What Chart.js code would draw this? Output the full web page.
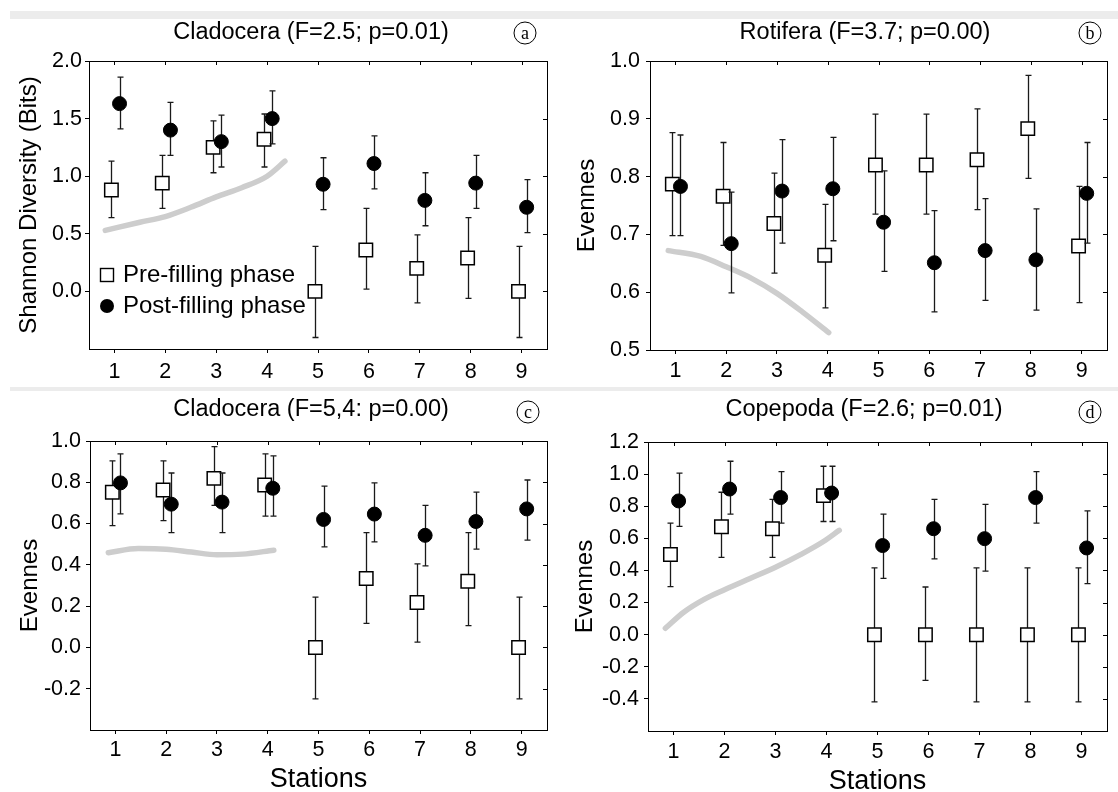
<!DOCTYPE html>
<html>
<head>
<meta charset="utf-8">
<title>Diversity and evenness by station</title>
<script src="https://cdn.jsdelivr.net/npm/chart.js@4.4.1/dist/chart.umd.min.js"></script>
<style>
  html, body { margin: 0; padding: 0; background: #fff; width: 1118px; height: 792px; overflow: hidden; position: relative; }
  .band { position: absolute; left: 10px; right: 0; background: #ececec; }
  canvas { position: absolute; }
</style>
</head>
<body>
<div class="band" style="top:11px;height:8px"></div>
<div class="band" style="top:387px;height:4px"></div>
<canvas id="chartA" width="558" height="370" style="left:0;top:20px"></canvas>
<canvas id="chartB" width="560" height="370" style="left:558px;top:20px"></canvas>
<canvas id="chartC" width="558" height="408" style="left:0;top:392px"></canvas>
<canvas id="chartD" width="560" height="408" style="left:558px;top:392px"></canvas>
<script>
const stations = [1, 2, 3, 4, 5, 6, 7, 8, 9];

// (a) Cladocera - Shannon diversity
const preA = [0.88, 0.94, 1.25, 1.32, 0.0, 0.36, 0.2, 0.29, 0.0];
const preALo = [0.64, 0.72, 1.03, 1.08, -0.4, 0.02, -0.1, -0.06, -0.4];
const preAHi = [1.13, 1.18, 1.48, 1.54, 0.39, 0.72, 0.49, 0.64, 0.39];
const postA = [1.63, 1.4, 1.3, 1.5, 0.93, 1.11, 0.79, 0.94, 0.73];
const postALo = [1.41, 1.18, 1.08, 1.28, 0.71, 0.89, 0.57, 0.72, 0.51];
const postAHi = [1.86, 1.64, 1.53, 1.74, 1.16, 1.35, 1.03, 1.18, 0.97];
const trendAX = [0.82, 1.5, 2, 2.5, 3, 3.5, 4, 4.35];
const trendAY = [0.53, 0.6, 0.65, 0.73, 0.82, 0.9, 1.0, 1.13];
const yTicksA = [0, 0.5, 1.0, 1.5, 2.0];

// (b) Rotifera - evenness
const preB = [0.787, 0.766, 0.719, 0.664, 0.82, 0.82, 0.829, 0.883, 0.68];
const preBLo = [0.698, 0.681, 0.633, 0.573, 0.735, 0.735, 0.743, 0.797, 0.582];
const preBHi = [0.876, 0.859, 0.806, 0.752, 0.908, 0.908, 0.917, 0.975, 0.783];
const postB = [0.783, 0.684, 0.775, 0.779, 0.721, 0.651, 0.672, 0.656, 0.771];
const postBLo = [0.698, 0.599, 0.685, 0.689, 0.636, 0.566, 0.586, 0.569, 0.685];
const postBHi = [0.872, 0.773, 0.864, 0.868, 0.81, 0.741, 0.762, 0.744, 0.859];
const trendBX = [0.86, 1.5, 2, 2.5, 3, 3.5, 4.02];
const trendBY = [0.672, 0.662, 0.644, 0.624, 0.598, 0.566, 0.53];
const yTicksB = [0.5, 0.6, 0.7, 0.8, 0.9, 1.0];

// (c) Cladocera - evenness
const preC = [0.752, 0.763, 0.819, 0.787, 0.0, 0.334, 0.218, 0.321, 0.0];
const preCLo = [0.59, 0.614, 0.688, 0.636, -0.249, 0.117, 0.026, 0.106, -0.249];
const preCHi = [0.904, 0.904, 0.973, 0.938, 0.244, 0.556, 0.405, 0.556, 0.244];
const postC = [0.797, 0.694, 0.704, 0.771, 0.62, 0.646, 0.543, 0.61, 0.671];
const postCLo = [0.647, 0.556, 0.556, 0.636, 0.487, 0.511, 0.395, 0.476, 0.52];
const postCHi = [0.938, 0.845, 0.845, 0.928, 0.781, 0.797, 0.688, 0.752, 0.811];
const trendCX = [0.86, 1.45, 2, 2.5, 3, 3.5, 4.12];
const trendCY = [0.459, 0.479, 0.476, 0.462, 0.449, 0.452, 0.471];
const yTicksC = [-0.2, 0, 0.2, 0.4, 0.6, 0.8, 1.0];

// (d) Copepoda - evenness
const preD = [0.499, 0.672, 0.66, 0.866, 0.0, 0.0, 0.0, 0.0, 0.0];
const preDLo = [0.299, 0.482, 0.482, 0.705, -0.419, -0.285, -0.419, -0.419, -0.419];
const preDHi = [0.695, 0.887, 0.843, 1.049, 0.416, 0.297, 0.416, 0.416, 0.416];
const postD = [0.833, 0.907, 0.854, 0.882, 0.555, 0.66, 0.598, 0.854, 0.54];
const postDLo = [0.674, 0.751, 0.695, 0.705, 0.351, 0.472, 0.396, 0.695, 0.318];
const postDHi = [1.006, 1.08, 1.016, 1.049, 0.751, 0.843, 0.812, 1.016, 0.771];
const trendDX = [0.84, 1.2, 1.6, 2.0, 2.5, 3.0, 3.5, 3.94, 4.25];
const trendDY = [0.04, 0.14, 0.22, 0.28, 0.35, 0.42, 0.5, 0.58, 0.65];
const yTicksD = [-0.4, -0.2, 0, 0.2, 0.4, 0.6, 0.8, 1.0, 1.2];

const FONT = "'Liberation Sans', Arial, Helvetica, sans-serif";
const PRE_SHIFT = -0.06;
const POST_SHIFT = 0.1;

// error bars drawn just before their own dataset, so markers sit on top
const errorBars = {
  id: "errorBars",
  beforeDatasetDraw(chart, args) {
    const ds = chart.data.datasets[args.index];
    if (!ds.errLo) return;
    const ctx = chart.ctx;
    const xs = chart.scales.x;
    const ys = chart.scales.y;
    ctx.save();
    ctx.strokeStyle = "#1a1a1a";
    ctx.lineWidth = 1.3;
    ds.data.forEach((p, i) => {
      const px = Math.round(xs.getPixelForValue(p.x)) + 0.5;
      const top = ys.getPixelForValue(ds.errHi[i]);
      const bot = ys.getPixelForValue(ds.errLo[i]);
      ctx.beginPath();
      ctx.moveTo(px, top);
      ctx.lineTo(px, bot);
      ctx.moveTo(px - 3, top);
      ctx.lineTo(px + 3, top);
      ctx.moveTo(px - 3, bot);
      ctx.lineTo(px + 3, bot);
      ctx.stroke();
    });
    ctx.restore();
  },
};

// full box round the plot, with inward ticks on top and right
const frame = {
  id: "frame",
  afterDraw(chart) {
    const { ctx, chartArea: a } = chart;
    const xs = chart.scales.x;
    const ys = chart.scales.y;
    ctx.save();
    ctx.strokeStyle = "#000";
    ctx.lineWidth = 1;
    ctx.strokeRect(Math.round(a.left) + 0.5, Math.round(a.top) + 0.5, Math.round(a.right - a.left), Math.round(a.bottom - a.top));
    ctx.beginPath();
    xs.ticks.forEach((t) => {
      const px = Math.round(xs.getPixelForValue(t.value)) + 0.5;
      ctx.moveTo(px, a.top);
      ctx.lineTo(px, a.top + 4);
    });
    ys.ticks.forEach((t) => {
      const py = Math.round(ys.getPixelForValue(t.value)) + 0.5;
      ctx.moveTo(a.right, py);
      ctx.lineTo(a.right - 4, py);
    });
    ctx.stroke();
    ctx.restore();
  },
};

// panel heading and circled letter
const panelText = {
  id: "panelText",
  afterDraw(chart, args, opts) {
    const ctx = chart.ctx;
    ctx.save();
    ctx.fillStyle = "#000";
    ctx.textAlign = "center";
    ctx.textBaseline = "middle";
    ctx.font = "23.5px " + FONT;
    ctx.fillText(opts.title, opts.titleX, opts.titleY);
    ctx.beginPath();
    ctx.lineWidth = 1;
    ctx.strokeStyle = "#000";
    ctx.arc(opts.letterX, opts.letterY, 11, 0, Math.PI * 2);
    ctx.stroke();
    ctx.font = "18px 'Liberation Serif', 'Times New Roman', serif";
    ctx.fillText(opts.letter, opts.letterX, opts.letterY + 1);
    ctx.restore();
  },
};

// legend inside panel (a)
const insideLegend = {
  id: "insideLegend",
  afterDraw(chart, args, opts) {
    if (!opts.show) return;
    const ctx = chart.ctx;
    const pre = chart.data.datasets[1];
    const post = chart.data.datasets[2];
    ctx.save();
    ctx.textAlign = "left";
    ctx.textBaseline = "middle";
    ctx.font = "24px " + FONT;
    ctx.fillStyle = "#fff";
    ctx.strokeStyle = "#000";
    ctx.lineWidth = 1.4;
    ctx.fillRect(opts.x - 6.5, opts.y - 6.5, 13, 13);
    ctx.strokeRect(opts.x - 6.5, opts.y - 6.5, 13, 13);
    ctx.fillStyle = "#000";
    ctx.beginPath();
    ctx.arc(opts.x, opts.y + opts.gap, 7, 0, Math.PI * 2);
    ctx.fill();
    ctx.fillText(pre.label, opts.x + 16, opts.y);
    ctx.fillText(post.label, opts.x + 16, opts.y + opts.gap);
    ctx.restore();
  },
};

function makePanel(canvasId, p) {
  const ctx = document.getElementById(canvasId);
  return new Chart(ctx, {
    type: "scatter",
    data: {
      datasets: [
        {
          label: "trend",
          type: "line",
          data: p.trendX.map((x, i) => ({ x: x, y: p.trendY[i] })),
          borderColor: "#cdcdcd",
          borderWidth: 5.5,
          borderCapStyle: "round",
          pointRadius: 0,
          cubicInterpolationMode: "monotone",
          fill: false,
          order: 3,
        },
        {
          label: "Pre-filling phase",
          data: stations.map((s, i) => ({ x: s + PRE_SHIFT, y: p.pre[i] })),
          errLo: p.preLo,
          errHi: p.preHi,
          pointStyle: "rect",
          pointRadius: 9.5,
          backgroundColor: "#fff",
          borderColor: "#000",
          borderWidth: 1.5,
          order: 2,
        },
        {
          label: "Post-filling phase",
          data: stations.map((s, i) => ({ x: s + POST_SHIFT, y: p.post[i] })),
          errLo: p.postLo,
          errHi: p.postHi,
          pointStyle: "circle",
          pointRadius: 7,
          backgroundColor: "#000",
          borderColor: "#000",
          borderWidth: 1,
          order: 1,
        },
      ],
    },
    options: {
      responsive: false,
      animation: false,
      events: [],
      layout: { padding: p.pad },
      plugins: {
        legend: { display: false },
        tooltip: { enabled: false },
        title: { display: false },
        panelText: p.text,
        insideLegend: p.legend || { show: false },
      },
      scales: {
        x: {
          type: "linear",
          min: 0.5,
          max: 9.5,
          afterBuildTicks: (s) => {
            s.ticks = stations.map((v) => ({ value: v }));
          },
          afterFit: (s) => {
            s.height = p.xh;
          },
          grid: { display: true, drawOnChartArea: false, drawTicks: true, tickLength: 4, color: "#000" },
          border: { display: true, color: "#000" },
          ticks: {
            color: "#000",
            font: { family: FONT, size: 21.5 },
            padding: p.xPad,
            maxRotation: 0,
            autoSkip: false,
            callback: (v) => String(v),
          },
          title: {
            display: !!p.xTitle,
            text: p.xTitle,
            color: "#000",
            font: { family: FONT, size: 27 },
            padding: 0,
          },
        },
        y: {
          type: "linear",
          min: p.yMin,
          max: p.yMax,
          afterBuildTicks: (s) => {
            s.ticks = p.yTicks.map((v) => ({ value: v }));
          },
          afterFit: (s) => {
            s.width = p.yw;
          },
          grid: { display: true, drawOnChartArea: false, drawTicks: true, tickLength: 4, color: "#000" },
          border: { display: true, color: "#000" },
          ticks: {
            color: "#000",
            font: { family: FONT, size: 21.5 },
            padding: p.yPad,
            autoSkip: false,
            callback: (v) => v.toFixed(1),
          },
          title: {
            display: true,
            text: p.yTitle,
            color: "#000",
            font: { family: FONT, size: 24 },
            padding: 0,
          },
        },
      },
    },
    plugins: [errorBars, frame, panelText, insideLegend],
  });
}

makePanel("chartA", {
  pre: preA, preLo: preALo, preHi: preAHi,
  post: postA, postLo: postALo, postHi: postAHi,
  trendX: trendAX, trendY: trendAY,
  yMin: -0.5, yMax: 2.0, yTicks: yTicksA,
  yTitle: "Shannon Diversity (Bits)", xTitle: "",
  pad: { left: 15, top: 41, right: 5, bottom: 1 }, yw: 74, xh: 40, xPad: 6, yPad: 3,
  text: { title: "Cladocera (F=2.5; p=0.01)", titleX: 311, titleY: 13, letter: "a", letterX: 525, letterY: 13 },
  legend: { show: true, x: 107, y: 255, gap: 31 },
});

makePanel("chartB", {
  pre: preB, preLo: preBLo, preHi: preBHi,
  post: postB, postLo: postBLo, postHi: postBHi,
  trendX: trendBX, trendY: trendBY,
  yMin: 0.5, yMax: 1.0, yTicks: yTicksB,
  yTitle: "Evennes", xTitle: "",
  pad: { left: 15, top: 41, right: 2, bottom: 0 }, yw: 77, xh: 40, xPad: 4, yPad: 6,
  text: { title: "Rotifera (F=3.7; p=0.00)", titleX: 307, titleY: 13, letter: "b", letterX: 532, letterY: 13 },
});

makePanel("chartC", {
  pre: preC, preLo: preCLo, preHi: preCHi,
  post: postC, postLo: postCLo, postHi: postCHi,
  trendX: trendCX, trendY: trendCY,
  yMin: -0.4, yMax: 1.0, yTicks: yTicksC,
  yTitle: "Evennes", xTitle: "Stations",
  pad: { left: 16, top: 49, right: 3, bottom: 4 }, yw: 74, xh: 66, xPad: 3, yPad: 5,
  text: { title: "Cladocera (F=5,4: p=0.00)", titleX: 311, titleY: 18, letter: "c", letterX: 528, letterY: 20 },
});

makePanel("chartD", {
  pre: preD, preLo: preDLo, preHi: preDHi,
  post: postD, postLo: postDLo, postHi: postDHi,
  trendX: trendDX, trendY: trendDY,
  yMin: -0.6, yMax: 1.2, yTicks: yTicksD,
  yTitle: "Evennes", xTitle: "Stations",
  pad: { left: 13, top: 50, right: 2, bottom: 2 }, yw: 77, xh: 67, xPad: 4, yPad: 5,
  text: { title: "Copepoda (F=2.6; p=0.01)", titleX: 306, titleY: 18, letter: "d", letterX: 532, letterY: 20 },
});
</script>
</body>
</html>
